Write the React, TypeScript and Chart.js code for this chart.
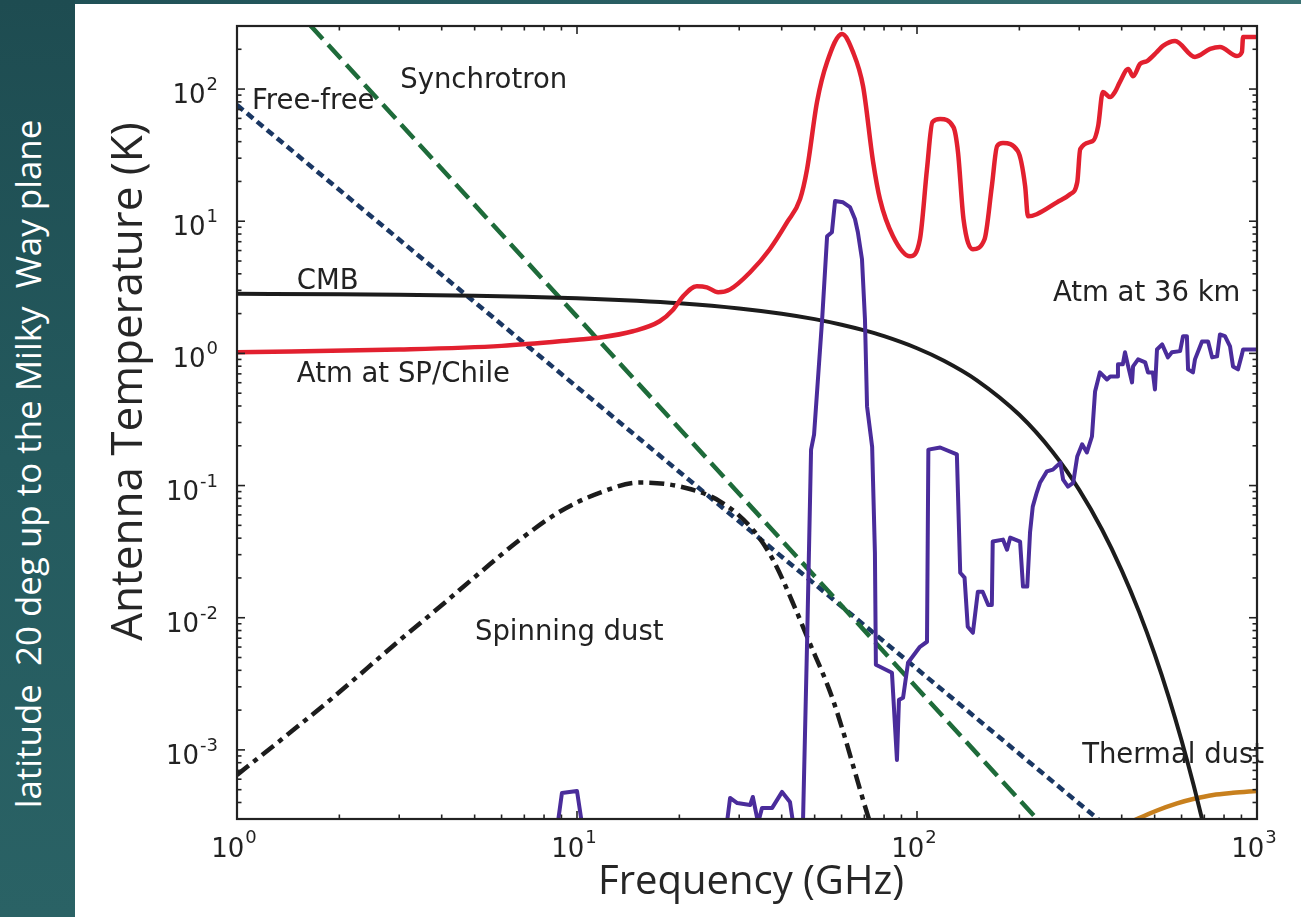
import React, { useEffect, useRef } from "react";
import { Chart, registerables } from "chart.js";

Chart.register(...registerables);

// ---------- data ----------
const cmbFreq = [1, 2, 3, 5, 7, 10, 15, 20, 30, 40, 50, 60, 70, 80, 100, 120, 150, 200, 250, 300, 350, 400, 450, 500, 550, 600, 650, 700];
const cmbTemp = [2.826, 2.802, 2.779, 2.732, 2.685, 2.617, 2.505, 2.397, 2.19, 1.997, 1.817, 1.649, 1.493, 1.349, 1.094, 0.88, 0.626, 0.343, 0.181, 0.0928, 0.0465, 0.02284, 0.01107, 0.005297, 0.00251, 0.001179, 0.00055, 0.000255];

const freeFreeFreq = [1, 10, 100, 1000];
const freeFreeTemp = [75.7, 0.557, 0.0041, 3.0e-5];

const synchFreq = [1, 10, 100, 1000];
const synchTemp = [1225, 1.897, 0.002938, 4.55e-6];

const spinFreq = [1, 1.53, 1.88, 3.02, 3.95, 5.18, 6.8, 8.91, 11.7, 15.3, 20.1, 26.4, 32.9, 37.7, 44.4, 47.5, 56.6, 71.3, 75];
const spinTemp = [6.47e-4, 1.55e-3, 2.39e-3, 6.81e-3, 0.0121, 0.0219, 0.039, 0.0636, 0.0885, 0.1054, 0.0983, 0.0757, 0.0464, 0.0275, 0.0109, 0.00718, 0.00239, 3.33e-4, 2.2e-4];

const dustFreq = [420, 447, 508, 582, 649, 743, 850, 1000];
const dustTemp = [2.8e-4, 3.02e-4, 3.48e-4, 3.94e-4, 4.25e-4, 4.56e-4, 4.73e-4, 4.89e-4];

const atmGroundFreq = [1, 3, 6, 10, 11.7, 14.6, 17.5, 19.2, 20.5, 22.5, 24.1, 26.0, 28.2, 32.3, 36.9, 41.5, 45.3, 47.5, 50.8, 54.4, 60.2, 64.8, 69.4, 74.3, 77.8, 85.0, 95.4, 102, 107, 111, 117, 128, 132, 137, 146, 158, 166, 172, 179, 198, 208, 212, 225, 258, 282, 296, 302, 329, 341, 352, 370, 382, 395, 418, 432, 453, 475, 508, 529, 574, 657, 728, 778, 873, 903, 910, 1000];
const atmGroundTemp = [1.02, 1.07, 1.14, 1.27, 1.32, 1.47, 1.75, 2.15, 2.7, 3.22, 3.16, 2.9, 3.05, 4.11, 6.14, 9.83, 14.7, 24.8, 79.7, 160, 261, 191, 105, 28.0, 14.7, 7.7, 5.43, 7.31, 24.8, 56.2, 59.3, 51.5, 33.3, 10.4, 6.14, 7.31, 18.4, 37.0, 39.0, 33.9, 18.4, 10.9, 11.3, 13.9, 16.0, 19.7, 35.1, 40.4, 52.4, 94.9, 86.9, 94.9, 113, 142, 125, 155, 163, 191, 212, 231, 175, 201, 208, 178, 191, 248, 248];

const atmBalloonFreq = [5, 8.73, 9.03, 10.0, 10.4, 15, 25, 27.6, 28.2, 29.6, 32.3, 32.9, 34.1, 35.0, 37.5, 40.1, 42.3, 43.2, 45, 46.2, 47.5, 48.8, 49.8, 52.6, 54.4, 56.2, 57.4, 60.6, 63.5, 65.7, 67.0, 68.9, 70.3, 71.3, 73.8, 75.2, 75.7, 84.4, 87.3, 88.5, 91.0, 94.1, 102, 107, 108, 117, 131, 134, 138, 141, 146, 151, 156, 162, 166, 167, 179, 184, 188, 201, 205, 211, 215, 219, 225, 230, 241, 251, 264, 269, 278, 288, 296, 306, 316, 327, 334, 345, 362, 370, 388, 390, 403, 409, 418, 429, 432, 447, 469, 478, 494, 501, 508, 526, 547, 562, 594, 606, 622, 627, 648, 657, 689, 718, 738, 763, 778, 805, 833, 850, 879, 903, 910, 1000];
const atmBalloonTemp = [1e-4, 2.5e-4, 4.72e-4, 4.89e-4, 2.5e-4, 1e-4, 1e-4, 2.8e-4, 4.33e-4, 3.96e-4, 3.83e-4, 4.4e-4, 2.8e-4, 3.64e-4, 3.64e-4, 4.81e-4, 4.04e-4, 2.8e-4, 1.5e-4, 2.8e-4, 6.47e-3, 0.187, 0.243, 1.81, 7.7, 8.26, 14.2, 13.9, 12.8, 10.4, 8.26, 5.15, 1.81, 0.397, 0.197, 0.0311, 0.00441, 0.00383, 8.4e-4, 0.00239, 0.00248, 0.00456, 0.00603, 0.00658, 0.187, 0.194, 0.172, 0.0219, 0.0201, 0.00855, 0.00769, 0.0157, 0.0157, 0.0125, 0.0125, 0.0377, 0.039, 0.0327, 0.0404, 0.0377, 0.0172, 0.0172, 0.0441, 0.0693, 0.0885, 0.105, 0.128, 0.132, 0.149, 0.111, 0.0983, 0.105, 0.166, 0.205, 0.178, 0.235, 0.515, 0.718, 0.635, 0.669, 0.669, 0.826, 0.826, 1.02, 0.797, 0.603, 0.797, 0.901, 0.855, 0.718, 0.718, 0.534, 1.07, 1.17, 0.933, 1.02, 1.04, 1.35, 1.35, 0.757, 0.718, 0.901, 1.23, 1.23, 0.933, 0.949, 1.39, 1.35, 1.13, 0.797, 0.757, 0.983, 1.07, 1.07];

const xTickExponents = [0, 1, 2, 3];
const yTickExponents = [-3, -2, -1, 0, 1, 2];
const xRange = [1, 1000];
const yRange = [3e-4, 300];

const xTitle = "Frequency (GHz)";
const yTitle = "Antenna Temperature (K)";
const sideNote = "latitude  20 deg up to the Milky  Way plane";

// text labels placed in data coordinates (left edge, baseline)
const annotationTexts = ["Synchrotron", "Free-free", "CMB", "Atm at SP/Chile", "Atm at 36 km", "Spinning dust", "Thermal dust"];
const annotationFreqs = [3.02, 1.107, 1.5, 1.5, 251, 5.01, 306];
const annotationTemps = [101.8, 70.5, 3.05, 0.603, 2.48, 0.00681, 7.97e-4];

// ---------- styling ----------
const LABEL_FONT = '"DejaVu Sans", sans-serif';
const TITLE_FONT = '"Open Sans", "Noto Sans", sans-serif';
const INK = "#222222";

const zip = (f: number[], t: number[]) => f.map((x, i) => ({ x, y: t[i] }));

function logTicks(lo: number, hi: number) {
  const out: { v: number; major: boolean }[] = [];
  for (let e = Math.floor(Math.log10(lo)); e <= Math.ceil(Math.log10(hi)); e++) {
    for (let m = 1; m < 10; m++) {
      const v = m * Math.pow(10, e);
      if (v >= lo * 0.999 && v <= hi * 1.001) out.push({ v, major: m === 1 });
    }
  }
  return out;
}

const axesPlugin = {
  id: "mplAxes",
  afterDatasetsDraw(chart: any) {
    const { ctx, chartArea: a, scales } = chart;
    const xs = scales.x;
    const ys = scales.y;
    ctx.save();

    // annotations
    ctx.fillStyle = INK;
    ctx.font = `27.5px ${LABEL_FONT}`;
    ctx.textAlign = "left";
    ctx.textBaseline = "alphabetic";
    annotationTexts.forEach((txt, i) => {
      ctx.fillText(txt, xs.getPixelForValue(annotationFreqs[i]), ys.getPixelForValue(annotationTemps[i]));
    });

    // frame
    ctx.strokeStyle = INK;
    ctx.lineWidth = 2.2;
    ctx.strokeRect(a.left, a.top, a.right - a.left, a.bottom - a.top);

    // inward ticks on all four sides
    ctx.lineWidth = 1.6;
    const seg = (x1: number, y1: number, x2: number, y2: number) => {
      ctx.beginPath();
      ctx.moveTo(x1, y1);
      ctx.lineTo(x2, y2);
      ctx.stroke();
    };
    for (const t of logTicks(xRange[0], xRange[1])) {
      const px = xs.getPixelForValue(t.v);
      const len = t.major ? 8 : 4.5;
      seg(px, a.bottom, px, a.bottom - len);
      seg(px, a.top, px, a.top + len);
    }
    for (const t of logTicks(yRange[0], yRange[1])) {
      const py = ys.getPixelForValue(t.v);
      const len = t.major ? 8 : 4.5;
      seg(a.left, py, a.left + len, py);
      seg(a.right, py, a.right - len, py);
    }

    // tick labels "10^n"
    const baseFont = `26px ${LABEL_FONT}`;
    const supFont = `18px ${LABEL_FONT}`;
    ctx.fillStyle = INK;
    ctx.textAlign = "left";
    for (const e of yTickExponents) {
      const py = ys.getPixelForValue(Math.pow(10, e));
      ctx.font = supFont;
      const sw = ctx.measureText(String(e)).width;
      ctx.font = baseFont;
      const bw = ctx.measureText("10").width;
      const right = a.left - 19;
      ctx.fillText("10", right - sw - 1 - bw, py + 14);
      ctx.font = supFont;
      ctx.fillText(String(e), right - sw, py + 1);
    }
    for (const e of xTickExponents) {
      const px = xs.getPixelForValue(Math.pow(10, e));
      ctx.font = supFont;
      const sw = ctx.measureText(String(e)).width;
      ctx.font = baseFont;
      const bw = ctx.measureText("10").width;
      const start = px - 3 - (bw + 1 + sw) / 2;
      ctx.fillText("10", start, a.bottom + 38);
      ctx.font = supFont;
      ctx.fillText(String(e), start + bw + 1, a.bottom + 24);
    }

    // axis titles
    ctx.fillStyle = "#262626";
    ctx.textAlign = "center";
    ctx.font = `40px ${TITLE_FONT}`;
    ctx.fillText(xTitle, (a.left + a.right) / 2 + 4, a.bottom + 75);
    ctx.save();
    ctx.translate(a.left - 95, (a.top + a.bottom) / 2 - 41);
    ctx.rotate(-Math.PI / 2);
    ctx.font = `44px ${TITLE_FONT}`;
    ctx.fillText(yTitle, 0, 0);
    ctx.restore();

    ctx.restore();
  },
};

export default function App() {
  const ref = useRef<HTMLCanvasElement>(null);

  useEffect(() => {
    const canvas = ref.current!;
    const chart = new Chart(canvas, {
      type: "line",
      data: {
        datasets: [
          {
            label: "Atm at SP/Chile",
            data: zip(atmGroundFreq, atmGroundTemp),
            borderColor: "#e2202f",
            borderWidth: 4.5,
            cubicInterpolationMode: "monotone",
            borderJoinStyle: "round",
            pointRadius: 0,
            clip: 0,
          },
          {
            label: "Atm at 36 km",
            data: zip(atmBalloonFreq, atmBalloonTemp),
            borderColor: "#4a2c9b",
            borderWidth: 4,
            borderJoinStyle: "round",
            tension: 0,
            pointRadius: 0,
            clip: 0,
          },
          {
            label: "CMB",
            data: zip(cmbFreq, cmbTemp),
            borderColor: "#1c1c1c",
            borderWidth: 4,
            cubicInterpolationMode: "monotone",
            pointRadius: 0,
            clip: 0,
          },
          {
            label: "Spinning dust",
            data: zip(spinFreq, spinTemp),
            borderColor: "#1c1c1c",
            borderWidth: 4.5,
            borderDash: [15, 6, 5, 6],
            cubicInterpolationMode: "monotone",
            pointRadius: 0,
            clip: 0,
          },
          {
            label: "Synchrotron",
            data: zip(synchFreq, synchTemp),
            borderColor: "#1e6b3a",
            borderWidth: 4.5,
            borderDash: [19, 8],
            tension: 0,
            pointRadius: 0,
            clip: 0,
          },
          {
            label: "Free-free",
            data: zip(freeFreeFreq, freeFreeTemp),
            borderColor: "#1a3763",
            borderWidth: 4.5,
            borderDash: [8, 5],
            tension: 0,
            pointRadius: 0,
            clip: 0,
          },
          {
            label: "Thermal dust",
            data: zip(dustFreq, dustTemp),
            borderColor: "#c8801e",
            borderWidth: 4.5,
            cubicInterpolationMode: "monotone",
            pointRadius: 0,
            clip: 0,
          },
        ],
      },
      options: {
        animation: false,
        responsive: false,
        devicePixelRatio: 1,
        events: [],
        layout: { padding: { left: 162, right: 44, top: 22, bottom: 98 } },
        plugins: { legend: { display: false }, tooltip: { enabled: false } },
        scales: {
          x: { type: "logarithmic", min: xRange[0], max: xRange[1], display: false },
          y: { type: "logarithmic", min: yRange[0], max: yRange[1], display: false },
        },
      },
      plugins: [axesPlugin],
    } as any);
    return () => chart.destroy();
  }, []);

  return (
    <div
      style={{
        position: "fixed",
        left: 0,
        top: 0,
        width: 1301,
        height: 917,
        overflow: "hidden",
        background: "linear-gradient(90deg, #1f4f55 0%, #2b6266 60%, #3a7273 100%)",
      }}
    >
      <div
        style={{
          position: "absolute",
          left: 0,
          top: 0,
          width: 75,
          height: 917,
          background: "linear-gradient(180deg, #1e4c51 0%, #245a5e 50%, #2a6265 100%)",
        }}
      />
      <div
        style={{
          position: "absolute",
          left: 28 - 450,
          top: 464 - 23,
          width: 900,
          height: 46,
          lineHeight: "46px",
          transform: "rotate(-90deg)",
          transformOrigin: "50% 50%",
          color: "#ffffff",
          fontFamily: TITLE_FONT,
          fontSize: 34.9,
          textAlign: "center",
          whiteSpace: "pre",
        }}
      >
        {sideNote}
      </div>
      <div
        style={{
          position: "absolute",
          left: 75,
          top: 4,
          width: 1226,
          height: 913,
          background: "#ffffff",
        }}
      >
        <canvas ref={ref} width={1226} height={913} style={{ display: "block", width: 1226, height: 913 }} />
      </div>
    </div>
  );
}
